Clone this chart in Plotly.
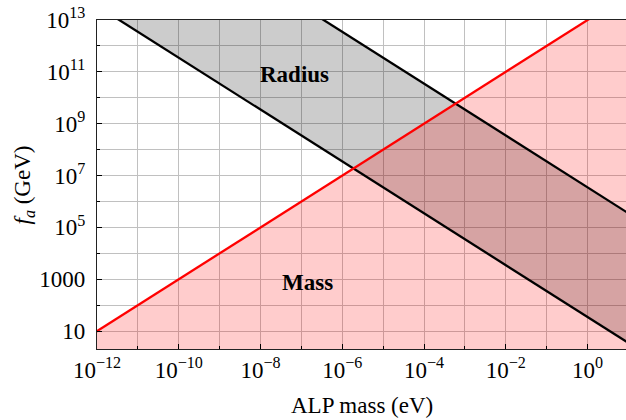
import math
import plotly.graph_objects as go

# ---- data ----
mass_ends = [1e-13, 1e2]                 # ALP mass (eV), line endpoints
fa_mass_limit = [1.0, 1e15]              # red line: mass bound
fa_radius_low = [3.5e14, 0.35]           # lower black line
fa_radius_high = [3.5e19, 3.5e4]         # upper black line

x_tickvals = [1e-12, 1e-10, 1e-8, 1e-6, 1e-4, 1e-2, 1e0]
x_ticktext = ["10<sup>−12</sup>", "10<sup>−10</sup>", "10<sup>−8</sup>", "10<sup>−6</sup>",
              "10<sup>−4</sup>", "10<sup>−2</sup>", "10<sup>0</sup>"]
x_minor = [1e-11, 1e-9, 1e-7, 1e-5, 1e-3, 1e-1, 1e1]
y_tickvals = [10, 1000, 1e5, 1e7, 1e9, 1e11, 1e13]
y_ticktext = ["10", "1000", "10<sup>5</sup>", "10<sup>7</sup>", "10<sup>9</sup>",
              "10<sup>11</sup>", "10<sup>13</sup>"]
y_minor = [1e2, 1e4, 1e6, 1e8, 1e10, 1e12]

labels = ["<b>Radius</b>", "<b>Mass</b>"]
label_x = [10**-7.16, 10**-6.86]
label_y = [10**10.9, 10**2.88]

x_title = "ALP mass (eV)"
y_title = "<i>f</i><sub><i>a</i></sub> (GeV)"

FONT = "Liberation Serif"

fig = go.Figure()

# gray band between the radius lines
fig.add_trace(go.Scatter(
    x=mass_ends + mass_ends[::-1],
    y=fa_radius_low + fa_radius_high[::-1],
    fill="toself", fillcolor="rgba(0,0,0,0.2)",
    line=dict(width=0), mode="lines", hoverinfo="skip", showlegend=False))

# pink region below the mass line
fig.add_trace(go.Scatter(
    x=mass_ends + mass_ends[::-1],
    y=fa_mass_limit + [1e-3, 1e-3],
    fill="toself", fillcolor="rgba(255,0,0,0.2)",
    line=dict(width=0), mode="lines", hoverinfo="skip", showlegend=False))

# boundary lines
fig.add_trace(go.Scatter(x=mass_ends, y=fa_radius_low, mode="lines",
                         line=dict(color="black", width=2.3), showlegend=False))
fig.add_trace(go.Scatter(x=mass_ends, y=fa_radius_high, mode="lines",
                         line=dict(color="black", width=2.3), showlegend=False))
fig.add_trace(go.Scatter(x=mass_ends, y=fa_mass_limit, mode="lines",
                         line=dict(color="#ff0000", width=2.3), showlegend=False))

for t, lx, ly in zip(labels, label_x, label_y):
    fig.add_annotation(x=math.log10(lx), y=math.log10(ly), xref="x", yref="y",
                       text=t, showarrow=False,
                       font=dict(family=FONT, size=23, color="black"))

# axis titles
fig.add_annotation(x=0.5, y=-0.173, xref="paper", yref="paper", text=x_title,
                   showarrow=False, xanchor="center", yanchor="middle",
                   font=dict(family=FONT, size=23, color="black"))
fig.add_annotation(x=-0.138, y=0.5, xref="paper", yref="paper", text=y_title,
                   showarrow=False, xanchor="center", yanchor="middle", textangle=-90,
                   font=dict(family=FONT, size=23, color="black"))

fig.update_xaxes(
    type="log", range=[-12, 0.94], automargin=False,
    tickmode="array", tickvals=x_tickvals, ticktext=x_ticktext,
    ticks="inside", ticklen=5, tickcolor="black", tickwidth=1,
    showgrid=True, gridcolor="#c0c0c0", gridwidth=1,
    minor=dict(tickvals=x_minor, ticks="inside", ticklen=3, tickcolor="black",
               showgrid=True, gridcolor="#c0c0c0", gridwidth=1),
    showline=True, linecolor="#222222", linewidth=1.3, mirror=True,
    zeroline=False,
    tickfont=dict(family=FONT, size=23, color="black"),
)
fig.update_yaxes(
    type="log", range=[0.31, 13.0005], automargin=False,
    tickmode="array", tickvals=y_tickvals, ticktext=y_ticktext,
    ticks="inside", ticklen=5, tickcolor="black", tickwidth=1,
    showgrid=True, gridcolor="#c0c0c0", gridwidth=1,
    minor=dict(tickvals=y_minor, ticks="inside", ticklen=3, tickcolor="black",
               showgrid=True, gridcolor="#c0c0c0", gridwidth=1),
    showline=True, linecolor="#222222", linewidth=1.3, mirror=False,
    zeroline=False,
    ticklabelstandoff=6,
    tickfont=dict(family=FONT, size=23, color="black"),
)

fig.update_layout(
    width=626, height=420,
    margin=dict(l=97, r=0, t=20, b=71),
    paper_bgcolor="white", plot_bgcolor="white",
    showlegend=False,
)

# remove the default page margin so the figure sits at the window's corner
fig.write_html("out.html",
               config={"displayModeBar": False},
               post_script="document.body.style.margin='0';document.body.style.overflow='hidden';")
